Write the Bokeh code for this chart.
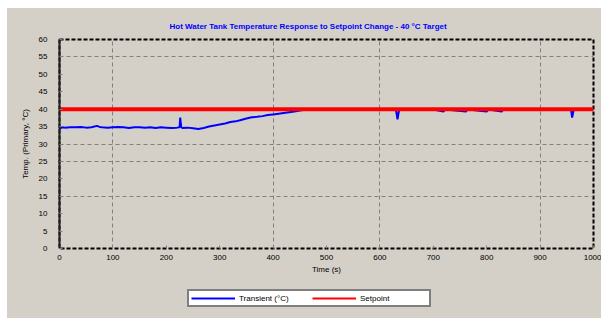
from bokeh.plotting import figure
from bokeh.models import FixedTicker, Legend, LegendItem, Range1d, Spacer
from bokeh.layouts import column, row
from bokeh.embed import file_html
from bokeh.resources import INLINE

# ---- data ----
time_x = [0, 5, 10, 20, 30, 40, 50, 60, 70, 75, 80, 90, 100, 110, 120, 130, 140, 150, 160,
          170, 180, 190, 200, 210, 220, 225, 226, 228, 230, 240, 250, 260, 270, 280, 290,
          300, 310, 320, 330, 340, 350, 360, 370, 380, 390, 400, 410, 420, 430, 440,
          450, 460, 470, 500, 550, 600, 630, 633, 636, 700, 719, 722, 761, 764, 800,
          803, 828, 831, 900, 958, 960, 963, 1000]
temp_y = [34.3, 34.8, 34.7, 34.8, 34.8, 34.9, 34.7, 34.8, 35.2, 34.9, 34.8, 34.7, 34.8,
          34.9, 34.8, 34.6, 34.8, 34.8, 34.7, 34.8, 34.6, 34.8, 34.7, 34.6, 34.7, 34.8,
          37.6, 34.8, 34.6, 34.7, 34.5, 34.3, 34.6, 35.0, 35.3, 35.6, 35.9, 36.3, 36.5,
          36.9, 37.3, 37.7, 37.8, 38.0, 38.3, 38.5, 38.7, 38.9, 39.1, 39.3, 39.6, 39.8,
          39.9, 39.9, 39.9, 39.9, 39.9, 37.1, 39.9, 39.9, 39.3, 39.9, 39.3, 39.9, 39.3,
          39.9, 39.3, 39.9, 39.9, 39.9, 37.6, 39.9, 39.9]
setpoint_x = [0, 1000]
setpoint_y = [40, 40]
x_ticks = [0, 100, 200, 300, 400, 500, 600, 700, 800, 900, 1000]
y_ticks = [0, 5, 10, 15, 20, 25, 30, 35, 40, 45, 50, 55, 60]
x_grid = [100, 400, 600, 900]
y_grid = [15, 25, 30, 55]
series_labels = ["Transient (°C)", "Setpoint"]
series_colors = ["#0000ff", "#ff0000"]

BG = "#d4d0c8"
FONT = "Liberation Sans"

p = figure(width=594, height=270, output_backend="svg", toolbar_location=None,
           title="Hot Water Tank Temperature Response to Setpoint Change - 40 °C Target",
           x_range=Range1d(0, 1000), y_range=Range1d(0, 60))
p.background_fill_color = BG
p.border_fill_color = BG
p.min_border_left = 52
p.min_border_right = 8
p.min_border_top = 31
p.min_border_bottom = 30

p.title.text_color = "#0000ff"
p.title.text_font = FONT
p.title.text_font_size = "8px"
p.title.align = "left"
p.title.offset = 110
p.title.text_font_style = "bold"
p.title.standoff = 18

p.outline_line_color = "black"
p.outline_line_width = 2
p.outline_line_dash = "4 2"

p.xaxis.ticker = FixedTicker(ticks=x_ticks)
p.yaxis.ticker = FixedTicker(ticks=y_ticks)
p.xgrid.ticker = FixedTicker(ticks=x_grid)
p.ygrid.ticker = FixedTicker(ticks=y_grid)
for g in (p.xgrid, p.ygrid):
    g.grid_line_color = "#808080"
    g.grid_line_dash = "4 3"
    g.grid_line_width = 1

for ax in (p.xaxis, p.yaxis):
    ax.major_label_text_font = FONT
    ax.major_label_text_font_size = "8px"
    ax.major_label_text_color = "black"
    ax.axis_label_text_font = FONT
    ax.axis_label_text_font_size = "8px"
    ax.axis_label_text_font_style = "normal"
    ax.axis_label_text_color = "black"
    ax.minor_tick_line_color = None
    ax.major_tick_out = 0
    ax.major_tick_in = 3
    ax.major_tick_line_color = "#808080"

p.yaxis.axis_line_color = "#202020"
p.yaxis.axis_line_width = 2
p.xaxis.axis_line_color = None
p.yaxis.major_label_standoff = 12
p.xaxis.major_label_standoff = 6
p.yaxis.axis_label = "Temp. (Primary, °C)"
p.xaxis.axis_label = "Time (s)"
p.yaxis.axis_label_standoff = 6
p.xaxis.axis_label_standoff = 2

p.line(time_x, temp_y, line_color=series_colors[0], line_width=2)
p.line(setpoint_x, setpoint_y, line_color=series_colors[1], line_width=4)

# legend strip below the chart (transparent, sits on the grey container)
lg = figure(width=594, height=40, output_backend="svg", toolbar_location=None,
            x_range=Range1d(0, 1), y_range=Range1d(0, 1), min_border=0)
lg.background_fill_alpha = 0
lg.border_fill_alpha = 0
lg.outline_line_color = None
lg.axis.visible = False
lg.grid.visible = False
r1 = lg.line([-5, -4], [-5, -4], line_color=series_colors[0], line_width=2)
r2 = lg.line([-5, -4], [-5, -4], line_color=series_colors[1], line_width=2)

legend = Legend(items=[LegendItem(label=series_labels[0], renderers=[r1]),
                       LegendItem(label=series_labels[1], renderers=[r2])],
                orientation="horizontal", location=(128, 11))
legend.label_text_font = FONT
legend.label_text_font_size = "8px"
legend.label_text_color = "black"
legend.glyph_width = 44
legend.glyph_height = 10
legend.label_height = 10
legend.label_width = 67
legend.label_standoff = 4
legend.spacing = 6
legend.padding = 2
legend.margin = 0
legend.border_line_color = "black"
legend.border_line_width = 2
legend.background_fill_color = "white"
legend.background_fill_alpha = 1
lg.add_layout(legend)

inner = column(p, lg, spacing=0, styles={"background-color": BG})
layout = column(Spacer(height=8),
                row(Spacer(width=7), inner, spacing=0),
                spacing=0)

open("out.html", "w").write(file_html(layout, INLINE))
